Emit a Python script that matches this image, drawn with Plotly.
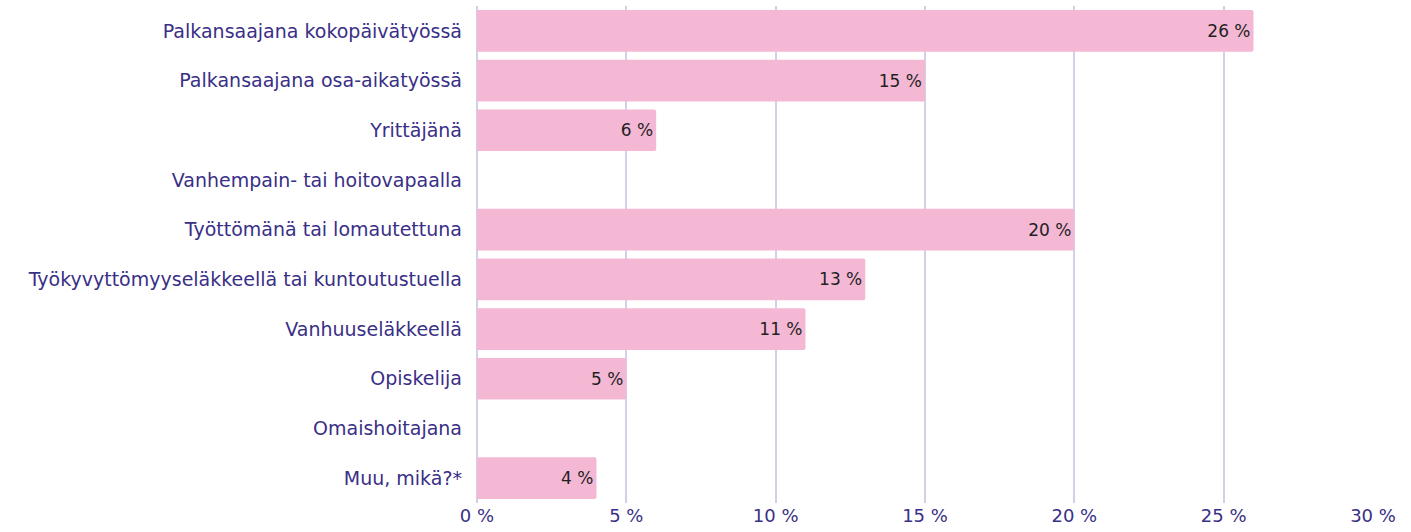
import plotly.graph_objects as go

categories = [
    "Palkansaajana kokopäivätyössä",
    "Palkansaajana osa-aikatyössä",
    "Yrittäjänä",
    "Vanhempain- tai hoitovapaalla",
    "Työttömänä tai lomautettuna",
    "Työkyvyttömyyseläkkeellä tai kuntoutustuella",
    "Vanhuuseläkkeellä",
    "Opiskelija",
    "Omaishoitajana",
    "Muu, mikä?*",
]
values = [26, 15, 6, None, 20, 13, 11, 5, None, 4]

tick_vals = [0, 5, 10, 15, 20, 25, 30]
tick_text = [f"{t} %" for t in tick_vals]

fig = go.Figure(
    go.Bar(
        x=values,
        y=categories,
        orientation="h",
        text=[f"{v} %" if v is not None else "" for v in values],
        textposition="inside",
        insidetextanchor="end",
        textangle=0,
        textfont=dict(size=17, color="#1f1f24"),
        marker=dict(color="#f4b8d4", line_width=0, cornerradius=2),
    )
)

fig.update_layout(
    width=1411,
    height=532,
    margin=dict(l=477, r=38, t=6, b=29),
    paper_bgcolor="white",
    plot_bgcolor="white",
    font=dict(family="DejaVu Sans, sans-serif", size=18, color="#3a2f86"),
    bargap=0.16,
    showlegend=False,
    xaxis=dict(
        range=[0, 30],
        tickvals=tick_vals,
        ticktext=tick_text,
        showgrid=True,
        gridcolor="#d2cfe6",
        gridwidth=2,
        zeroline=True,
        zerolinecolor="#d2cfe6",
        zerolinewidth=2,
        showline=False,
        ticks="",
        tickfont=dict(size=18, color="#3a2f86"),
    ),
    yaxis=dict(
        autorange="reversed",
        showgrid=False,
        ticks="",
        ticklabelstandoff=14,
        tickfont=dict(size=19, color="#3a2f86"),
    ),
)

# drop the page's default body margin so the plot sits at the window corner
fig.write_html(
    "out.html",
    config={"displayModeBar": False},
    post_script="document.body.style.margin='0';",
)
